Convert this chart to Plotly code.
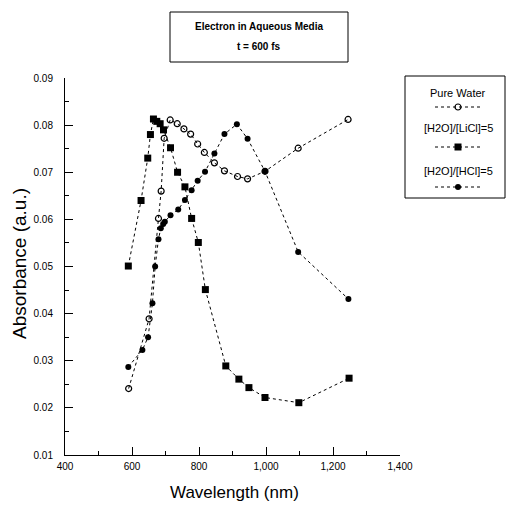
import plotly.graph_objects as go

# ---- data ----
water_x = [590, 651, 679, 687, 696, 714, 735, 755, 775, 796, 816, 846, 876, 915, 945, 997, 1096, 1245]
water_y = [0.0241, 0.0389, 0.0602, 0.0660, 0.0772, 0.0811, 0.0803, 0.0792, 0.0781, 0.0760, 0.0742,
           0.0720, 0.0703, 0.0691, 0.0686, 0.0702, 0.0751, 0.0812]

licl_x = [589, 627, 647, 655, 664, 674, 684, 694, 715, 736, 758, 778, 798, 819, 880, 919, 949, 997, 1098, 1248]
licl_y = [0.0501, 0.0640, 0.0730, 0.0780, 0.0813, 0.0808, 0.0803, 0.0790, 0.0752, 0.0700, 0.0669,
          0.0602, 0.0551, 0.0451, 0.0289, 0.0261, 0.0243, 0.0222, 0.0211, 0.0263]

hcl_x = [589, 631, 648, 661, 669, 679, 686, 693, 698, 715, 738, 758, 778, 796, 818, 846, 876, 913, 945, 997, 1096, 1246]
hcl_y = [0.0287, 0.0323, 0.0350, 0.0422, 0.0500, 0.0558, 0.0581, 0.0590, 0.0595, 0.0609, 0.0621,
         0.0641, 0.0662, 0.0682, 0.0701, 0.0740, 0.0781, 0.0802, 0.0771, 0.0702, 0.0531, 0.0431]

series_names = ["Pure Water", "[H2O]/[LiCl]=5", "[H2O]/[HCl]=5"]
x_ticks = [400, 600, 800, 1000, 1200, 1400]
x_tick_labels = ["400", "600", "800", "1,000", "1,200", "1,400"]
y_ticks = [0.01, 0.02, 0.03, 0.04, 0.05, 0.06, 0.07, 0.08, 0.09]
y_tick_labels = ["0.01", "0.02", "0.03", "0.04", "0.05", "0.06", "0.07", "0.08", "0.09"]
title_lines = ["Electron in Aqueous Media", "t = 600 fs"]
y_title = "Absorbance (a.u.)"
x_title = "Wavelength (nm)"

FONT = "Liberation Sans, Arial, sans-serif"

styles = [
    dict(symbol="circle-open", size=6, color="black", line=dict(width=1.2, color="black")),
    dict(symbol="square", size=7, color="black"),
    dict(symbol="circle", size=6, color="black"),
]
line_style = dict(color="black", width=1, dash="dot")

fig = go.Figure()
for xs, ys, name, st in zip([water_x, licl_x, hcl_x], [water_y, licl_y, hcl_y], series_names, styles):
    fig.add_trace(go.Scatter(x=xs, y=ys, mode="lines+markers", name=name,
                             line=line_style, marker=st, showlegend=False))

W, H = 510, 508
ml = 65
plot_bottom = 455
mb = H - plot_bottom
pw, ph = W - ml, plot_bottom   # paper size with r=0, t=0

def px(x):
    return (x - ml) / pw

def py(y):
    return (ph - y) / ph

# custom legend samples (text above marker, as in the original)
leg_rows = [107, 147, 187]  # reference pixel rows
for row, st in zip(leg_rows, styles):
    fig.add_trace(go.Scatter(x=[0.30, 0.75], y=[row, row], mode="lines", line=line_style,
                             xaxis="x2", yaxis="y2", showlegend=False, hoverinfo="skip"))
    fig.add_trace(go.Scatter(x=[0.53], y=[row], mode="markers", marker=st,
                             xaxis="x2", yaxis="y2", showlegend=False, hoverinfo="skip"))

fig.update_layout(
    width=W, height=H,
    margin=dict(l=ml, r=0, t=0, b=mb, autoexpand=False),
    paper_bgcolor="white", plot_bgcolor="white",
    font=dict(family=FONT, color="black", size=10),
    xaxis=dict(domain=[0, px(400)], range=[400, 1400], tickvals=x_ticks, ticktext=x_tick_labels,
               ticks="inside", ticklen=8, tickwidth=1, tickcolor="black",
               minor=dict(dtick=100, ticks="inside", ticklen=4, tickcolor="black"),
               showline=True, linecolor="black", linewidth=1, showgrid=False, zeroline=False,
               automargin=False, ticklabelstandoff=2,
               tickfont=dict(size=10, family=FONT)),
    yaxis=dict(domain=[0, py(78)], range=[0.01, 0.09], tickvals=y_ticks, ticktext=y_tick_labels,
               ticks="inside", ticklen=8, tickwidth=1, tickcolor="black",
               minor=dict(dtick=0.005, ticks="inside", ticklen=4, tickcolor="black"),
               showline=True, linecolor="black", linewidth=1, showgrid=False, zeroline=False,
               automargin=False, ticklabelstandoff=9,
               tickfont=dict(size=10, family=FONT)),
    xaxis2=dict(domain=[px(405), min(px(505), 1)], range=[0, 1], visible=False, anchor="y2"),
    yaxis2=dict(domain=[py(198), py(76)], range=[198, 76], visible=False, anchor="x2"),
)

# axis titles
fig.add_annotation(xref="paper", yref="paper", x=px(20), y=py(264), text=y_title, textangle=-90,
                   showarrow=False, font=dict(size=19, family=FONT), xanchor="center", yanchor="middle")
fig.add_annotation(xref="paper", yref="paper", x=px(234), y=py(493), text=x_title,
                   showarrow=False, font=dict(size=17, family=FONT), xanchor="center", yanchor="middle")

# title box
fig.add_shape(type="rect", xref="paper", yref="paper", x0=px(170), x1=px(348), y0=py(62), y1=py(12),
              line=dict(color="black", width=1), fillcolor="rgba(0,0,0,0)")
for txt, yy in zip(title_lines, [26, 47]):
    fig.add_annotation(xref="paper", yref="paper", x=px(259), y=py(yy), text="<b>" + txt + "</b>",
                       showarrow=False, font=dict(size=10, family=FONT), xanchor="center", yanchor="middle")

# legend box
fig.add_shape(type="rect", xref="paper", yref="paper", x0=px(405), x1=px(505), y0=py(198), y1=py(76),
              line=dict(color="black", width=1), fillcolor="rgba(0,0,0,0)")
for name, yy in zip(series_names, [93, 128, 171]):
    fig.add_annotation(xref="paper", yref="paper", x=px(458), y=py(yy), text=name,
                       showarrow=False, font=dict(size=11, family=FONT), xanchor="center", yanchor="middle")

post = ("document.documentElement.style.margin='0';document.body.style.margin='0';"
        "document.body.style.padding='0';document.body.style.overflow='hidden';")
fig.write_html("out.html", post_script=post, config={"displayModeBar": False})
